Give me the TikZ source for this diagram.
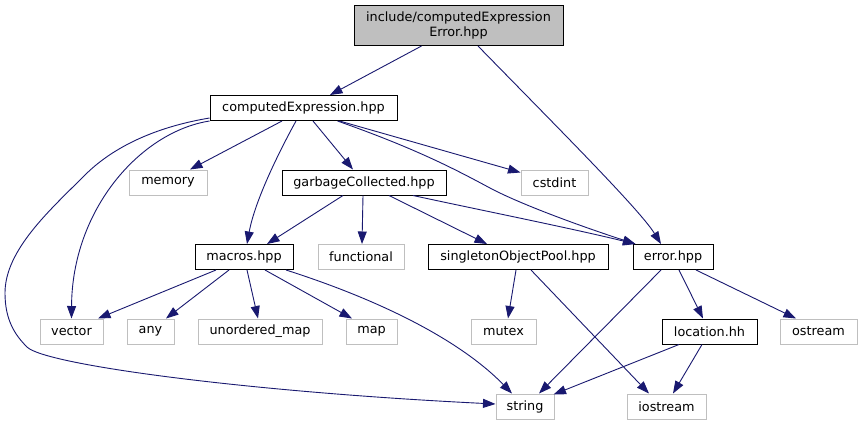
\documentclass[tikz,border=0pt]{standalone}
\usepackage{fontspec}
\setmainfont{DejaVu Sans}
\usetikzlibrary{arrows.meta,calc}
\definecolor{edgeblue}{HTML}{191970}
\definecolor{sysgray}{HTML}{BFBFBF}
\begin{document}
\begin{tikzpicture}[x=1bp,y=-1bp,
  every node/.style={font=\fontsize{12.8bp}{15bp}\selectfont, inner sep=0pt, minimum height=25bp, anchor=center},
  filebox/.style={draw=black, line width=1bp, fill=white},
  sysbox/.style={draw=sysgray, line width=1bp, fill=white},
  topbox/.style={draw=black, line width=1bp, fill=sysgray, align=center, minimum height=40bp},
  dep/.style={draw=edgeblue, line width=0.9bp, -{Triangle[length=12.5bp,width=9bp]}, fill=none}
]
\useasboundingbox (0,0) rectangle (862,425);
\fill[white] (0,0) rectangle (862,425);

\node[topbox, minimum width=209bp] (top) at (458.5,25.5) {include/computedExpression\\Error.hpp};
\node[filebox, minimum width=187bp] (cE) at (303.5,108) {computedExpression.hpp};
\node[sysbox, minimum width=78bp] (memory) at (168,182.5) {memory};
\node[filebox, minimum width=164bp] (gC) at (364,182.5) {garbageCollected.hpp};
\node[sysbox, minimum width=67bp] (cstdint) at (554.5,182.5) {cstdint};
\node[filebox, minimum width=98bp] (macros) at (244,257) {macros.hpp};
\node[sysbox, minimum width=86bp] (functional) at (361,257) {functional};
\node[filebox, minimum width=180bp] (sOP) at (518,257) {singletonObjectPool.hpp};
\node[filebox, minimum width=80bp] (error) at (673,257) {error.hpp};
\node[sysbox, minimum width=63bp] (vector) at (71.5,331.5) {vector};
\node[sysbox, minimum width=47bp] (any) at (150.5,331.5) {any};
\node[sysbox, minimum width=124bp] (uomap) at (260,331.5) {unordered\_map};
\node[sysbox, minimum width=51bp] (map) at (371.5,331.5) {map};
\node[sysbox, minimum width=65bp] (mutex) at (503.5,331.5) {mutex};
\node[filebox, minimum width=95bp] (location) at (709.5,331.5) {location.hh};
\node[sysbox, minimum width=77bp] (ostream) at (818.5,331.5) {ostream};
\node[sysbox, minimum width=58bp] (string) at (525,406.5) {string};
\node[sysbox, minimum width=79bp] (iostream) at (666.5,406.5) {iostream};

% top file
\draw[dep] ($(top.south)+(-37,0)$) -- ($(cE.north)+(26.5,0)$);
\draw[dep] ($(top.south)+(19.5,0)$) .. controls (560,130) and (640,210) .. ($(error.north)+(-12,0)$);

% computedExpression.hpp
\draw[dep] ($(cE.south)+(-21.5,0)$) -- ($(memory.north)+(22,0)$);
\draw[dep] ($(cE.south)+(9.5,0)$) -- ($(gC.north)+(-11,0)$);
\draw[dep] ($(cE.south)+(36,0)$) -- ($(cstdint.west)+(0,-10)$);
\draw[dep] ($(cE.south)+(34,0)$) .. controls (420,150) and (460,172) .. (490,188)
  .. controls (520,204) and (580,226) .. ($(error.north west)+(3,0)$);
\draw[dep] ($(cE.south)+(-7.5,0)$) .. controls (280,150) and (255,200) .. ($(macros.north)+(3,0)$);
\draw[dep] (cE.south west) .. controls (140,132) and (72,210) .. (vector.north);
\draw[dep] ($(cE.south west)+(0,-3)$) .. controls (150,128) and (110,150) .. (85,175)
  .. controls (50,210) and (5,250) .. (5,293)
  .. controls (5,320) and (15,335) .. (27,347)
  .. controls (45,365) and (250,392) .. ($(string.west)+(0,-2.5)$);

% garbageCollected.hpp
\draw[dep] ($(gC.south)+(-21,0)$) -- ($(macros.north)+(23,0)$);
\draw[dep] ($(gC.south)+(-1,0)$) -- ($(functional.north)+(1,0)$);
\draw[dep] ($(gC.south)+(25,0)$) -- ($(sOP.north)+(-31,0)$);
\draw[dep] ($(gC.south)+(49,0)$) .. controls (480,210) and (570,228) .. ($(error.north west)+(3,0)$);

% macros.hpp
\draw[dep] ($(macros.south)+(-28,0)$) -- ($(vector.north)+(26.5,0)$);
\draw[dep] ($(macros.south)+(-15,0)$) -- ($(any.north)+(15.5,0)$);
\draw[dep] ($(macros.south)+(3,0)$) -- ($(uomap.north)+(-2,0)$);
\draw[dep] ($(macros.south)+(21,0)$) -- ($(map.north)+(-19.5,0)$);
\draw[dep] ($(macros.south)+(42,0)$) .. controls (380,300) and (460,340) .. ($(string.north)+(-13,0)$);

% singletonObjectPool.hpp
\draw[dep] ($(sOP.south)+(-2,0)$) -- ($(mutex.north)+(4.5,0)$);
\draw[dep] ($(sOP.south)+(13,0)$) -- ($(iostream.north)+(-17.5,0)$);

% error.hpp
\draw[dep] ($(error.south)+(-12,0)$) -- ($(string.north)+(14,0)$);
\draw[dep] ($(error.south)+(6,0)$) -- ($(location.north)+(-6.5,0)$);
\draw[dep] ($(error.south)+(23,0)$) -- ($(ostream.north)+(-22.5,0)$);

% location.hh
\draw[dep] ($(location.south)+(-30.5,0)$) -- ($(string.north east)+(-1,1)$);
\draw[dep] ($(location.south)+(-7.5,0)$) -- ($(iostream.north)+(6.5,0)$);
\end{tikzpicture}
\end{document}
